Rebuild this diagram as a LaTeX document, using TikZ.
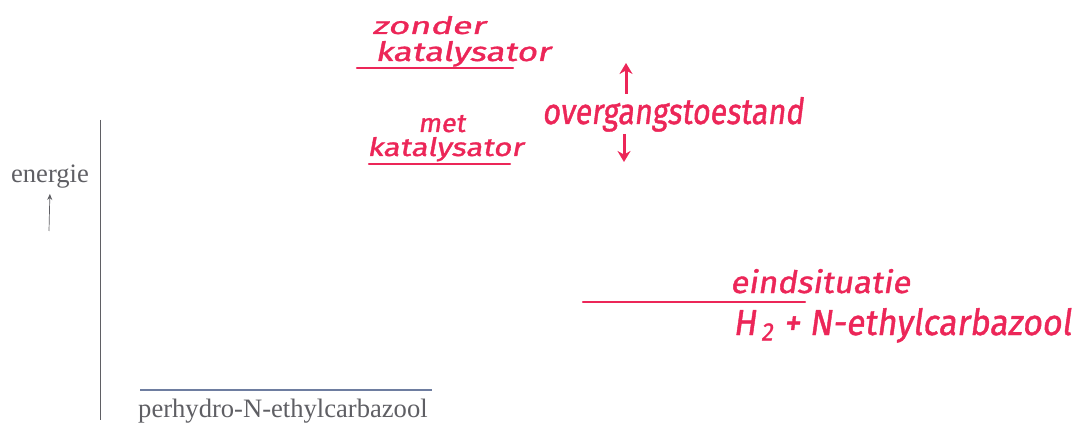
\documentclass[tikz,border=0pt]{standalone}
\usepackage{fontspec}
\setmainfont{Liberation Serif}
\newfontfamily\handfont[FakeBold=1.2,FakeSlant=0.15]{Fira Sans}
\usetikzlibrary{arrows.meta}
\definecolor{inkgray}{RGB}{95,95,100}
\definecolor{linegray}{RGB}{110,125,160}
\definecolor{handred}{RGB}{236,38,88}
\tikzset{
  graytext/.style={text=inkgray, font=\fontsize{26.6}{28}\selectfont, inner sep=0pt},
  axisline/.style={draw=inkgray, line width=0.9pt},
  levelgray/.style={draw=linegray, line width=1.3pt},
  handtext/.style={text=handred, font=\handfont, inner sep=0pt, anchor=base west},
  handline/.style={draw=handred, line width=2.4pt, line cap=round},
  handarrow/.style={draw=handred, line width=3pt, -{Stealth[length=11pt,width=13pt]}}
}
\begin{document}
\begin{tikzpicture}[x=1pt,y=-1pt]
\useasboundingbox (0,0) rectangle (1083,438);
% axis and labels
\coordinate (ax1) at (100,120);
\coordinate (ax2) at (100,420);
\draw[axisline] (ax1) -- (ax2);
\node[graytext, anchor=base] (en) at (50,183) {energie};
\coordinate (ea1) at (49,231);
\draw[draw=inkgray, line width=0.7pt, -{Stealth[length=6pt,width=5pt]}, shorten >=5pt] (ea1) -- (en.south);
% starting level
\coordinate (pl1) at (140,390);
\coordinate (pl2) at (432,390);
\draw[levelgray] (pl1) -- (pl2);
\node[graytext, anchor=base west] (perh) at (138,417) {perhydro-N-ethylcarbazool};
% zonder katalysator
\node[handtext] (zonder) at (372,34) {\resizebox{113pt}{18pt}{zonder}};
\node[handtext] (kat1) at (375,61) {\resizebox{175pt}{20pt}{katalysator}};
\coordinate (l1a) at (357,68);
\coordinate (l1b) at (513,68);
\draw[handline] (l1a) -- (l1b);
% met katalysator
\node[handtext] (met) at (418,132) {\resizebox{47pt}{17pt}{met}};
\node[handtext] (kat2) at (367,156) {\resizebox{156pt}{19pt}{katalysator}};
\coordinate (l2a) at (369,164);
\coordinate (l2b) at (510,164);
\draw[handline] (l2a) -- (l2b);
% overgangstoestand
\node[handtext] (ovg) at (542,124) {\resizebox{261pt}{27pt}{overgangstoestand}};
\coordinate (ua) at (626,94);
\coordinate (ub) at (626,63);
\draw[handarrow] (ua) -- (ub);
\coordinate (da) at (624,134);
\coordinate (db) at (624,162);
\draw[handarrow] (da) -- (db);
% eindsituatie
\coordinate (l3a) at (583,302);
\coordinate (l3b) at (805,302);
\draw[handline] (l3a) -- (l3b);
\node[handtext] (eind) at (730,293) {\resizebox{180pt}{24pt}{eindsituatie}};
\node[handtext] (prod) at (733,335) {\resizebox{338pt}{27pt}{H\kern1.5pt\textsubscript{2} + N-ethylcarbazool}};
\end{tikzpicture}
\end{document}
